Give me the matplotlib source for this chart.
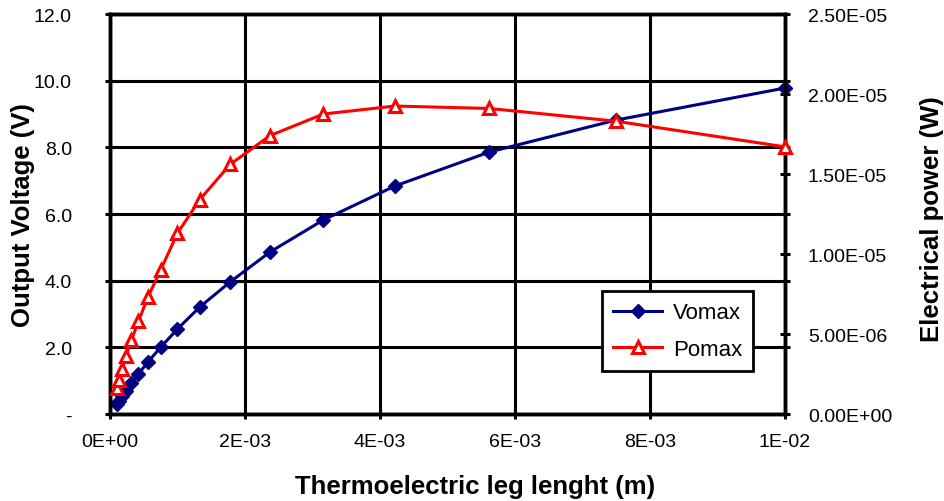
import numpy as np
import matplotlib
matplotlib.use("Agg")
import matplotlib.pyplot as plt
import matplotlib.ticker as ticker

plt.rcParams['font.family'] = ['Liberation Sans', 'DejaVu Sans']

# leg length (m)
leg_length = [1.0e-4, 1.33e-4, 1.78e-4, 2.37e-4, 3.16e-4, 4.22e-4, 5.62e-4, 7.5e-4,
              1.0e-3, 1.33e-3, 1.78e-3, 2.37e-3, 3.16e-3, 4.22e-3, 5.62e-3, 7.5e-3, 1.0e-2]
# output voltage (V)
vomax = [0.30, 0.40, 0.53, 0.70, 0.92, 1.20, 1.56, 2.00,
         2.55, 3.21, 3.96, 4.86, 5.82, 6.84, 7.86, 8.82, 9.78]
# electrical power (W)
pomax = [1.6e-6, 2.1e-6, 2.8e-6, 3.6e-6, 4.6e-6, 5.8e-6, 7.3e-6, 9.0e-6,
         1.13e-5, 1.34e-5, 1.56e-5, 1.74e-5, 1.875e-5, 1.925e-5, 1.91e-5, 1.83e-5, 1.67e-5]

v_ticks = [0, 2, 4, 6, 8, 10, 12]
v_labels = ["-", "2.0", "4.0", "6.0", "8.0", "10.0", "12.0"]
p_ticks = [0, 5e-6, 1e-5, 1.5e-5, 2e-5, 2.5e-5]
p_labels = ["0.00E+00", "5.00E-06", "1.00E-05", "1.50E-05", "2.00E-05", "2.50E-05"]
x_ticks = [0, 2e-3, 4e-3, 6e-3, 8e-3, 1e-2]
x_labels = ["0E+00", "2E-03", "4E-03", "6E-03", "8E-03", "1E-02"]

fig = plt.figure(figsize=(9.44, 5.02), dpi=100)
ax = fig.add_axes([0.1165, 0.1733, 0.715, 0.7967])
ax2 = ax.twinx()

ax.set_xlim(0, 1e-2)
ax.set_ylim(0, 12)
ax2.set_ylim(0, 2.5e-5)

ax.set_xticks(x_ticks)
ax.set_xticklabels(x_labels)
ax.set_yticks(v_ticks)
ax.set_yticklabels(v_labels)
ax2.set_yticks(p_ticks)
ax2.set_yticklabels(p_labels)
# stubs of the voltage gridlines on the right spine
ax2.yaxis.set_minor_locator(ticker.FixedLocator([v * 2.5e-5 / 12 for v in v_ticks[1:-1]]))

ax.grid(True, color="black", linewidth=2.2)
ax.set_axisbelow(True)
for a in (ax, ax2):
    for s in a.spines.values():
        s.set_linewidth(2.5)
        s.set_color("black")
ax.tick_params(axis="y", direction="inout", length=7, width=2.2, labelsize=14, pad=24)
ax.tick_params(axis="x", direction="inout", length=7, width=2.2, labelsize=14, pad=10)
ax2.tick_params(axis="y", which="both", direction="inout", length=7, width=2.2, labelsize=14, pad=13)

l1, = ax.plot(leg_length, vomax, color="#000080", linewidth=2.2, marker="D",
              markersize=7, markerfacecolor="#000080", markeredgecolor="#000080",
              label="Vomax", clip_on=False, zorder=5)
l2, = ax2.plot(leg_length, pomax, color="#FF0000", linewidth=2.2, marker="^",
               markersize=9, markerfacecolor="white", markeredgecolor="#FF0000",
               markeredgewidth=2.2, label="Pomax", clip_on=False, zorder=5)

ax.set_xlabel("Thermoelectric leg lenght (m)", fontsize=18.5, fontweight="bold", va="center")
ax.set_ylabel("Output Voltage (V)", fontsize=18.5, fontweight="bold", va="center")
ax2.set_ylabel("Electrical power (W)", fontsize=18.5, fontweight="bold", va="center")
ax.xaxis.set_label_coords(0.541, -0.18)
ax.yaxis.set_label_coords(-0.129, 0.5)
ax2.yaxis.set_label_coords(1.218, 0.49)

leg = ax2.legend(handles=[l1, l2], loc="lower left", bbox_to_anchor=(0.729, 0.1075),
                 fontsize=16, frameon=True, fancybox=False, framealpha=1,
                 edgecolor="black", handlelength=2.2, borderpad=0.5, labelspacing=0.7,
                 handletextpad=0.5, borderaxespad=0)
leg.get_frame().set_linewidth(2)

fig.savefig("out.png", dpi=100)
